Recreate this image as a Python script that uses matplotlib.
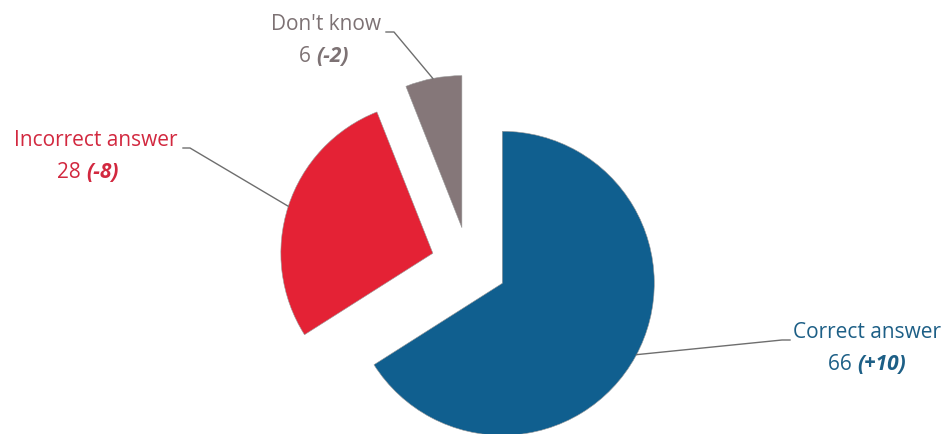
import numpy as np
import matplotlib
matplotlib.use("Agg")
import matplotlib.pyplot as plt

# data
categories = ["Correct answer", "Incorrect answer", "Don't know"]
values = [66, 28, 6]
changes = ["(+10)", "(-8)", "(-2)"]
colors = ["#105f8f", "#e42235", "#857779"]
text_colors = ["#1d5f86", "#d2283f", "#7d7274"]

fig = plt.figure(figsize=(9.47, 4.34), dpi=100)
ax = fig.add_axes([0, 0, 1, 1])

radius = 152
# explode is in data units here, so scale it by the radius
explode = [0.25 * radius] * len(values)
wedges, _ = ax.pie(values, colors=colors, startangle=90, counterclock=False,
                   explode=explode, radius=radius, center=(469, 169),
                   wedgeprops=dict(edgecolor="#9a9a9a", linewidth=0.4),
                   frame=True)
ax.set_xlim(0, 947)
ax.set_ylim(0, 434)
ax.set_aspect("equal")
ax.axis("off")


def arc_point(wedge, angle_deg):
    cx, cy = wedge.center
    a = np.deg2rad(angle_deg)
    return cx + wedge.r * np.cos(a), cy + wedge.r * np.sin(a)


font = ["Open Sans", "DejaVu Sans"]
fs = 15

# label layout
label_pos = [(867, 101), (96, 294), (326, 409)]
number_gap = 32
leader_start = [(790, 94), (183, 286), (386, 402)]
leader_knee = [(782, 94), (190, 286), (394, 402)]
arc_angles = [-28, 162, 101]

for i in range(len(values)):
    x, y = label_pos[i]
    ax.text(x, y, categories[i], ha="center", va="center", fontsize=fs,
            color=text_colors[i], family=font)
    ax.text(x - 10, y - number_gap, str(values[i]) + " ", ha="right",
            va="center", fontsize=fs, color=text_colors[i], family=font)
    ax.text(x - 10, y - number_gap, changes[i], ha="left", va="center",
            fontsize=fs, color=text_colors[i], family=font,
            fontweight="bold", fontstyle="italic")
    px, py = arc_point(wedges[i], arc_angles[i])
    sx, sy = leader_start[i]
    kx, ky = leader_knee[i]
    ax.plot([sx, kx, px], [sy, ky, py], color="#6e6e6e", linewidth=1.0)

fig.savefig("out.png", dpi=100, facecolor="white")
